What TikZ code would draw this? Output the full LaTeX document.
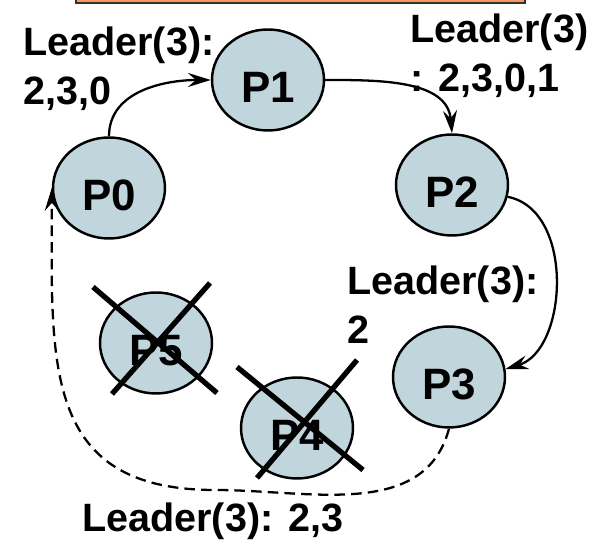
\documentclass[tikz,border=0pt]{standalone}
\usepackage{fontspec}
\setmainfont{Liberation Sans}
\usetikzlibrary{arrows.meta,shapes.geometric}

\definecolor{procfill}{RGB}{193,213,221}
\definecolor{barfill}{RGB}{247,152,92}

\begin{document}
\begin{tikzpicture}[x=0.02cm, y=-0.02cm,
  proc/.style={ellipse, draw, line width=1.4pt, fill=procfill,
    minimum width=2.24cm, minimum height=2.02cm, inner sep=0pt,
    text height=26pt, text depth=0pt,
    font=\fontsize{25}{30}\selectfont\bfseries},
  lbl/.style={anchor=north west, align=left, inner sep=0pt,
    font=\fontsize{22.5}{27.8}\selectfont\bfseries},
  msg/.style={line width=1.3pt, -{Stealth[length=13pt,width=8pt,inset=4.5pt]}},
  kill/.style={line width=3pt}]
  \useasboundingbox (0,0) rectangle (603,543);

  % title bar, cut at the top
  \fill[barfill, draw=black!80, line width=0.8pt] (76,-20) rectangle (525,3);

  % processes on the ring
  \node[proc] (p0) at (109,188) {P0};
  \node[proc] (p1) at (268,80) {P1};
  \node[proc] (p2) at (452,185) {P2};
  \node[proc] (p3) at (449,377) {P3};
  \node[proc] (p4) at (297,428) {P4};
  \node[proc] (p5) at (156,343) {P5};

  % crashed ones
  \draw[kill] (93,287) -- (217,393);
  \draw[kill] (210,283) -- (112,394);
  \draw[kill] (237,367) -- (363,470);
  \draw[kill] (357,360) -- (257,478);

  % election message
  \draw[msg] (p0.north) to[out=90, in=180] (p1.west);
  \draw[msg] (p1.east) to[out=0, in=95] (p2.north);
  \draw[msg] (p2.-12) .. controls (575,210) and (568,350) .. (p3.8);
  \coordinate (bend) at (215,490);
  \draw[msg, dash pattern=on 6pt off 3.5pt]
    (p3.south) to[out=-105, in=0] (bend)
    to[out=180, in=-90, looseness=1.3] (p0.west);

  % collected ids
  \node[lbl] (l0) at (23,27) {Leader(3):\\2,3,0};
  \node[lbl] (l1) at (410,14) {Leader(3)\\: 2,3,0,1};
  \node[lbl] (l2) at (347,266) {Leader(3):\\2};
  \node[lbl] (l3) at (82,503) {Leader(3): 2,3};
\end{tikzpicture}
\end{document}
